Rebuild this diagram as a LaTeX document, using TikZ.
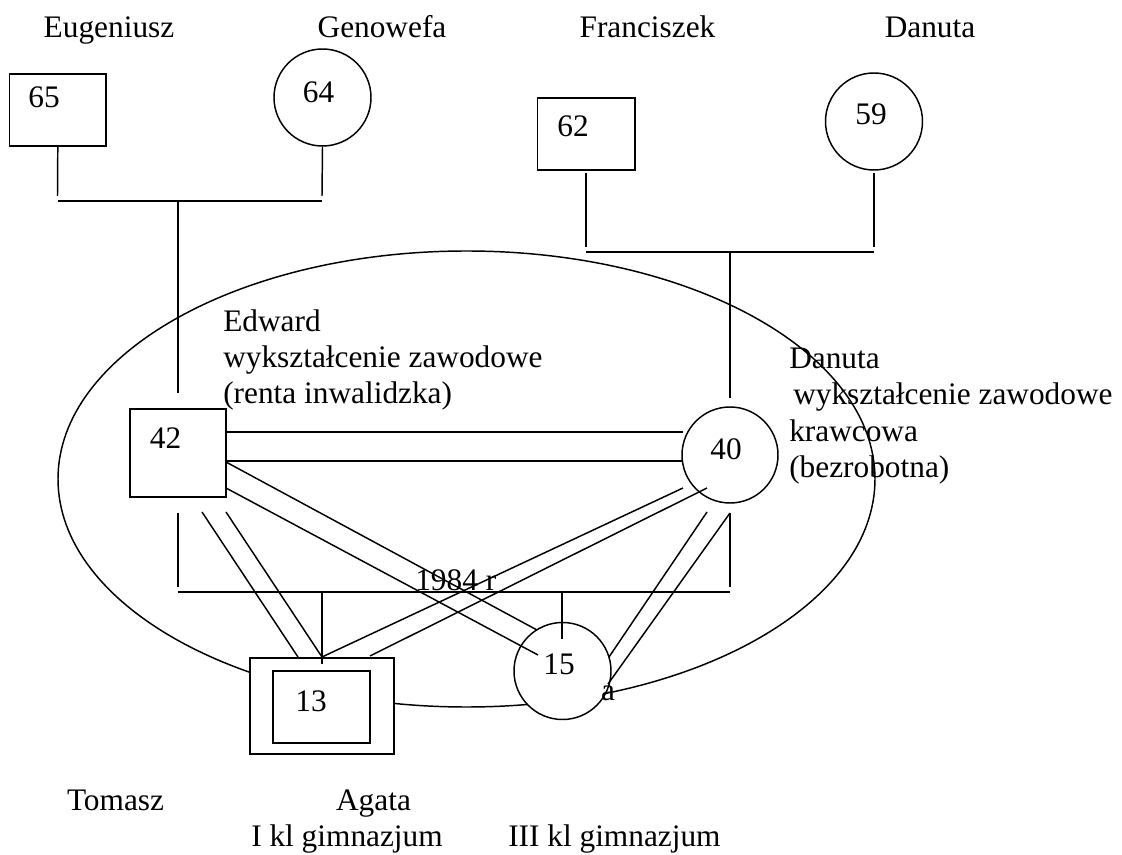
\documentclass[tikz,border=0pt]{standalone}
\usepackage{fontspec}
\setmainfont{Liberation Serif}
\usetikzlibrary{shapes.geometric}
\begin{document}
\begin{tikzpicture}[x=0.75pt,y=-0.75pt,
  every node/.style={font=\fontsize{23.5}{28}\selectfont, inner sep=0pt},
  ln/.style={line width=1.1pt},
  male/.style={draw, line width=1.1pt, rectangle, fill=white},
  female/.style={draw, line width=1.1pt, circle, fill=white},
  txt/.style={anchor=base},
  txtw/.style={anchor=base west}]
\useasboundingbox (0,0) rectangle (1122,855);

% household boundary
\node[ellipse, draw, line width=1.1pt, minimum width=612.75pt, minimum height=342pt] (home) at (466.5,479) {};

% grandparents, father's side
\node[male, minimum width=72.3pt, minimum height=54pt] (p65) at (57.8,110) {};
\node (t65) at (44,97) {65};
\node[female, minimum size=72.75pt] (p64) at (322.5,97.5) {};
\node (t64) at (318.5,92.5) {64};
\node[txt] (nEug) at (109,38) {Eugeniusz};
\node[txt] (nGen) at (382,38) {Genowefa};

% grandparents, mother's side
\node[male, minimum width=73.1pt, minimum height=54pt] (p62) at (586.25,134) {};
\node (t62) at (573,126) {62};
\node[female, minimum size=72.75pt] (p59) at (874,121.5) {};
\node (t59) at (871,114.5) {59};
\node[txt] (nFra) at (647.5,38) {Franciszek};
\node[txt] (nDan) at (930,38) {Danuta};

% parents
\node[male, minimum width=72pt, minimum height=66pt] (p42) at (178,453) {};
\node (t42) at (165.5,438.5) {42};
\node[female, minimum size=72pt] (p40) at (730,455) {};
\node (t40) at (726,449) {40};

% children
\node[male, minimum width=108pt, minimum height=72pt] (p13o) at (322,706) {};
\node[male, minimum width=72.75pt, minimum height=54pt] (p13) at (321.5,707) {};
\node (t13) at (311,701.5) {13};
\node[female, minimum size=72.75pt] (p15) at (562.5,671) {};
\node (t15) at (559,664) {15};

% descent lines, father's side
\coordinate (ga1) at (57.5,196);
\coordinate (ga2) at (322,196);
\coordinate (gb1) at (57.5,201);
\coordinate (gb2) at (322,201);
\coordinate (gb3) at (178,201);
\coordinate (gb4) at (178,393);
\draw[ln] (p65.south) -- (ga1);
\draw[ln] (p64.south) -- (ga2);
\draw[ln] (gb1) -- (gb2);
\draw[ln] (gb3) -- (gb4);

% descent lines, mother's side
\coordinate (ha0) at (586,173);
\coordinate (ha1) at (586,247);
\coordinate (hc0) at (874,173);
\coordinate (hc1) at (874,247);
\coordinate (hb1) at (586,252);
\coordinate (hb2) at (874,252);
\coordinate (hb3) at (730,252);
\coordinate (hb4) at (730,398);
\draw[ln] (ha0) -- (ha1);
\draw[ln] (hc0) -- (hc1);
\draw[ln] (hb1) -- (hb2);
\draw[ln] (hb3) -- (hb4);

% strong bond between the parents
\coordinate (m1) at (226,432);
\coordinate (m2) at (683,432);
\coordinate (m3) at (226,461);
\coordinate (m4) at (683,461);
\draw[ln] (m1) -- (m2);
\draw[ln] (m3) -- (m4);

% marriage line
\coordinate (w1) at (178,513);
\coordinate (w2) at (178,587);
\coordinate (w3) at (730,513);
\coordinate (w4) at (730,587);
\coordinate (w5) at (178,592);
\coordinate (w6) at (730,592);
\draw[ln] (w1) -- (w2);
\draw[ln] (w3) -- (w4);
\draw[ln] (w5) -- (w6);
\node[txtw] (year) at (415,590) {1984 r};

% children's drop lines
\coordinate (k1) at (322,592);
\coordinate (k2) at (322,664);
\coordinate (k3) at (562,592);
\coordinate (k4) at (562,639);
\draw[ln] (k1) -- (k2);
\draw[ln] (k3) -- (k4);

% bonds father -> son
\coordinate (fs1) at (202,512);
\coordinate (fs2) at (298,657);
\coordinate (fs3) at (226,512);
\coordinate (fs4) at (322,657);
\draw[ln] (fs1) -- (fs2);
\draw[ln] (fs3) -- (fs4);

% bonds mother -> son
\coordinate (ms1) at (683,488);
\coordinate (ms2) at (322,657);
\coordinate (ms3) at (707,488);
\coordinate (ms4) at (370,656);
\draw[ln] (ms1) -- (ms2);
\draw[ln] (ms3) -- (ms4);

% bonds father -> daughter
\coordinate (fd1) at (226,462);
\coordinate (fd2) at (537,630);
\coordinate (fd3) at (226,488);
\coordinate (fd4) at (538,655);
\draw[ln] (fd1) -- (fd2);
\draw[ln] (fd3) -- (fd4);

% bonds mother -> daughter
\coordinate (md1) at (707,512);
\coordinate (md2) at (609,657);
\coordinate (md3) at (730,513);
\coordinate (md4) at (608,684);
\draw[ln] (md1) -- (md2);
\draw[ln] (md3) -- (md4);

% descriptions of the parents
\node[txtw] (e1) at (223,332) {Edward};
\node[txtw] (e2) at (223,368) {wykształcenie zawodowe};
\node[txtw] (e3) at (223,404) {(renta inwalidzka)};
\node[txtw] (d1) at (789,368.5) {Danuta};
\node[txtw] (d2) at (793,405) {wykształcenie zawodowe};
\node[txtw] (d3) at (789,441.5) {krawcowa};
\node[txtw] (d4) at (789,478) {(bezrobotna)};

% names of the children
\node[txt] (c1) at (115.5,810) {Tomasz};
\node[txt] (c2) at (373.5,810) {Agata};
\node[txtw] (c3) at (251,846) {I kl gimnazjum};
\node[txtw] (c4) at (508,846) {III kl gimnazjum};
\node[txt] (c5) at (608,700) {a};
\end{tikzpicture}
\end{document}
